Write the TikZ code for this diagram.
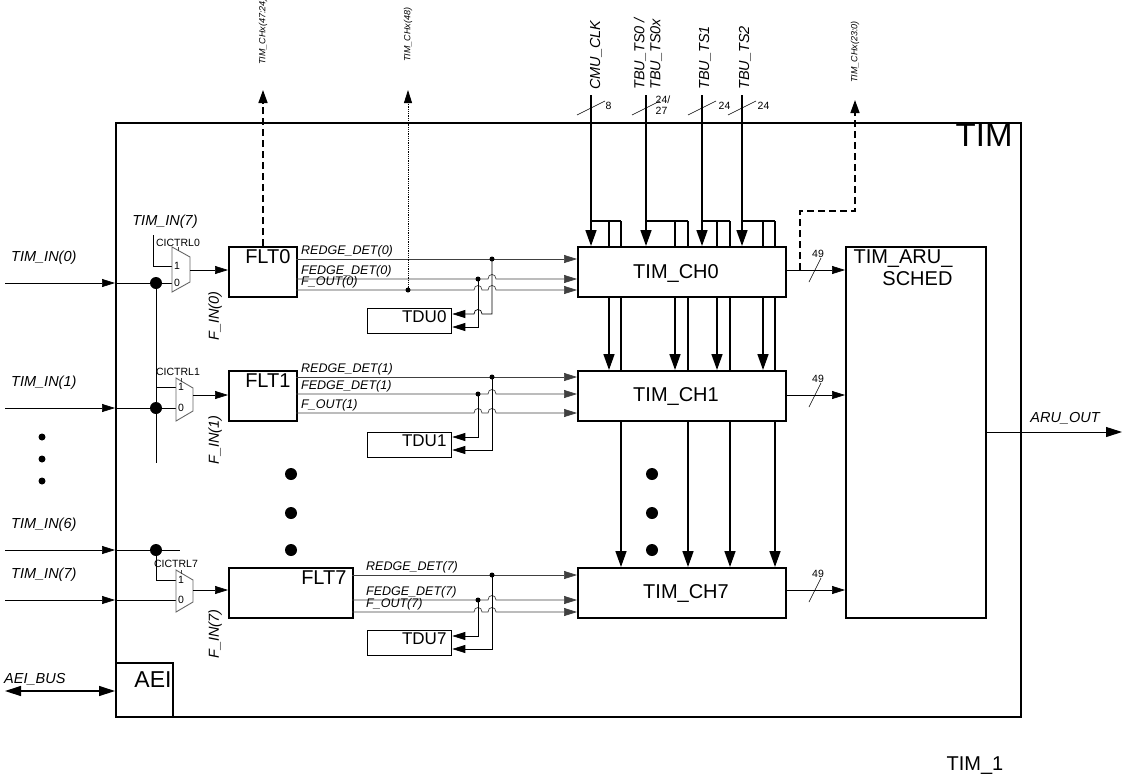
\documentclass[tikz,border=0pt]{standalone}
\usepackage{fontspec}
\setmainfont{Liberation Sans}
\usetikzlibrary{arrows.meta}
\begin{document}
\begin{tikzpicture}[x=1pt,y=-1pt,
  box/.style={draw,line width=1.6pt,fill=white},
  sig/.style={line width=0.7pt,draw=black!75},
  bus/.style={line width=1.6pt},
  tip/.style={-{Triangle[length=13pt,width=8pt]}},
  btip/.style={-{Triangle[length=16pt,width=11pt]}},
  lab/.style={font=\fontsize{12.5}{14}\selectfont\itshape,inner sep=1pt},
  big/.style={font=\fontsize{14.5}{16}\selectfont\itshape,inner sep=1pt},
  tiny/.style={font=\fontsize{10.5}{11}\selectfont,inner sep=0.5pt},
  vcap/.style={font=\fontsize{9}{10}\selectfont\itshape,rotate=90,anchor=west,inner sep=1pt},
  bl/.style={font=\fontsize{20}{22}\selectfont},
  mux/.style={draw=black!60,line width=0.9pt,fill=white},
  dot/.style={circle,fill,inner sep=0pt,minimum size=5pt},
  bdot/.style={circle,fill,inner sep=0pt,minimum size=12pt}]
\useasboundingbox (0,0) rectangle (1127,780);
% outer box
\node[draw,line width=1.6pt,minimum width=905pt,minimum height=594pt,anchor=north west,inner sep=0pt] (tim) at (115,122) {};
\node[font=\fontsize{33}{35}\selectfont,anchor=north east] (timl) at (1016,120) {TIM};
\node[box,minimum width=57pt,minimum height=54pt,anchor=north west,inner sep=0pt] (aei) at (115,662) {};
\node[font=\fontsize{23}{25}\selectfont] (aeil) at (153,680) {AEI};
\coordinate (aeiw) at (5,691);
\draw[line width=1.3pt,{Triangle[length=16pt,width=10pt]}-{Triangle[length=16pt,width=10pt]}] (aeiw) -- (aei.west|-aeiw);
\node[big,anchor=south west] (aeibus) at (3,686) {AEI\_BUS};

% inputs
\foreach \y/\n in {283/0,408/1,550/6,600/7}{
  \draw[sig,draw=black,tip] (5,\y) -- (115,\y);
  \node[big,anchor=south west] at (10,\y-17) {TIM\_IN(\n)};
}
\draw[sig,draw=black] (115,283) -- (172,283);
\draw[sig,draw=black] (115,408) -- (176,408);
\draw[sig,draw=black] (115,550) -- (180,550);
\draw[sig,draw=black] (115,600) -- (176,600);
\draw[sig,draw=black] (156,283) -- (156,463);
\draw[sig,draw=black] (156,387) -- (176,387);
\draw[sig,draw=black] (156,550) -- (156,580) -- (176,580);
\node[big,anchor=south] (t7) at (165,230) {TIM\_IN(7)};
\draw[sig,draw=black] (153,235) -- (153,266) -- (172,266);
\foreach \y in {283,408,550} \node[bdot] at (156,\y) {};
\foreach \y in {437,459,481} \node[circle,fill,inner sep=0pt,minimum size=7pt] at (42,\y) {};

% muxes
\draw[mux] (172,247) -- (190,257) -- (190,282) -- (172,292) -- cycle;
\draw[mux] (176,378) -- (193,388) -- (193,411) -- (176,421) -- cycle;
\draw[mux] (176,570) -- (193,580) -- (193,602) -- (176,612) -- cycle;
\node[tiny] at (177,266) {1};\node[tiny] at (177,283) {0};
\node[tiny] at (181,387) {1};\node[tiny] at (181,408) {0};
\node[tiny] at (181,580) {1};\node[tiny] at (181,600) {0};
\draw[sig] (178,247) -- (178,251);\draw[sig] (181,378) -- (181,382);\draw[sig] (181,570) -- (181,574);
\node[tiny,anchor=south] at (178,247) {CICTRL0};
\node[tiny,anchor=south] at (178,376) {CICTRL1};
\node[tiny,anchor=south] at (176,568) {CICTRL7};

% filters
\node[box,minimum width=68pt,minimum height=50pt,anchor=north west,inner sep=0pt] (flt0) at (228,246) {};
\node[box,minimum width=68pt,minimum height=50pt,anchor=north west,inner sep=0pt] (flt1) at (228,370) {};
\node[box,minimum width=124pt,minimum height=50pt,anchor=north west,inner sep=0pt] (flt7) at (228,567) {};
\node[bl,anchor=north east] at (294,246) {FLT0};
\node[bl,anchor=north east] at (294,370) {FLT1};
\node[bl,anchor=north east] at (350,567) {FLT7};
\draw[sig,draw=black,tip] (190,270) -- (flt0.west|-0,270);
\draw[sig,draw=black,tip] (193,395) -- (flt1.west|-0,395);
\draw[sig,draw=black,tip] (193,590) -- (flt7.west|-0,590);
\node[big,rotate=90] at (215,316) {F\_IN(0)};
\node[big,rotate=90] at (215,440) {F\_IN(1)};
\node[big,rotate=90] at (215,634) {F\_IN(7)};
\foreach \y in {474,513,550} \node[bdot] at (291,\y) {};

% TDUs
\node[box,line width=1.3pt,minimum width=84pt,minimum height=25pt,anchor=north west,inner sep=0pt] (tdu0) at (367,308) {};
\node[box,line width=1.3pt,minimum width=84pt,minimum height=25pt,anchor=north west,inner sep=0pt] (tdu1) at (367,432) {};
\node[box,line width=1.3pt,minimum width=84pt,minimum height=25pt,anchor=north west,inner sep=0pt] (tdu7) at (367,630) {};
\node[font=\fontsize{17}{19}\selectfont,anchor=north east] at (450,307) {TDU0};
\node[font=\fontsize{17}{19}\selectfont,anchor=north east] at (450,431) {TDU1};
\node[font=\fontsize{17}{19}\selectfont,anchor=north east] at (450,629) {TDU7};

% channels
\node[box,minimum width=208pt,minimum height=50pt,anchor=north west,inner sep=0pt] (ch0) at (577,246) {};
\node[box,minimum width=208pt,minimum height=50pt,anchor=north west,inner sep=0pt] (ch1) at (577,370) {};
\node[box,minimum width=208pt,minimum height=50pt,anchor=north west,inner sep=0pt] (ch7) at (577,567) {};
\node[bl] at (676,273) {TIM\_CH0};
\node[bl] at (676,396) {TIM\_CH1};
\node[bl] at (686,593) {TIM\_CH7};

% signal macros
\newcommand\hop[2]{-- (#1-4,#2) .. controls (#1-4,#2-6) and (#1+4,#2-6) .. (#1+4,#2)}
\newcommand\lhop[2]{-- (#1+4,#2) .. controls (#1+4,#2-6) and (#1-4,#2-6) .. (#1-4,#2)}
\newcommand\chsig[6]{%
  \draw[sig,tip] (#6,#1) -- (577,#1);
  \draw[sig,tip] (#6,#2) \hop{492}{#2} -- (577,#2);
  \draw[sig,tip] (#6,#3) \hop{478}{#3} \hop{492}{#3} -- (577,#3);
  \node[dot] at (492,#1) {};\node[dot] at (478,#2) {};
  \node[lab,anchor=south west] at (#4,#1-1) {REDGE\_DET(#5)};
  \node[lab,anchor=south west] at (#4,#2-1) {FEDGE\_DET(#5)};
  \node[lab,anchor=south west] at (#4,#3-0.5) {F\_OUT(#5)};}
\chsig{259}{279}{290}{300}{0}{296}
\chsig{377}{394}{413}{300}{1}{296}
\chsig{575}{600}{612}{365}{7}{352}
\draw[sig,tip,draw=black] (492,259) -- (492,314) \lhop{478}{314} -- (tdu0.east|-0,314);
\draw[sig,tip,draw=black] (478,279) -- (478,327) -- (tdu0.east|-0,327);
\draw[sig,tip,draw=black] (478,394) -- (478,437) -- (tdu1.east|-0,437);
\draw[sig,tip,draw=black] (492,377) -- (492,450) -- (tdu1.east|-0,450);
\draw[sig,tip,draw=black] (478,600) -- (478,636) -- (tdu7.east|-0,636);
\draw[sig,tip,draw=black] (492,575) -- (492,649) -- (tdu7.east|-0,649);
\node[dot] at (408,290) {};

% outputs up
\draw[line width=1.5pt,dash pattern=on 7pt off 4pt,-{Triangle[length=13pt,width=9pt]}] (flt0.north-|263,0) -- (263,90);
\draw[line width=0.8pt,densely dotted,-{Triangle[length=13pt,width=8pt]}] (408,290) -- (408,90);
\node[vcap] at (263,66) {TIM\_CHx(47:24)};
\node[vcap] at (408,63) {TIM\_CHx(48)};
\node[vcap] at (855,84) {TIM\_CHx(23:0)};
\draw[line width=1.5pt,dash pattern=on 7pt off 4pt,-{Triangle[length=13pt,width=9pt]}] (800,270) -- (800,211) -- (855,211) -- (855,100);

% bus inputs
\foreach \x/\a/\b in {591/609/621,646/675/688,702/717/730,742/763/775}{
  \draw[bus] (\x,221) -- (\b,221);
  \draw[bus,btip] (\x,95) -- (\x,246);
  \draw[bus] (\a,221) -- (\a,246);
  \draw[bus] (\b,221) -- (\b,246);
  \draw[bus,btip] (\a,296) -- (\a,370);
  \draw[bus] (\b,296) -- (\b,370);
  \draw[bus,btip] (\b,420) -- (\b,567);
  \draw[line width=0.6pt] (\x-14,115) -- (\x+14,101);
}
\node[tiny,anchor=west] at (605,106) {8};
\node[tiny,anchor=west,align=left] at (655,105) {24/\\ 27};
\node[tiny,anchor=west] at (718,106) {24};
\node[tiny,anchor=west] at (757,106) {24};
\node[big,rotate=90,anchor=west] at (596,91) {CMU\_CLK};
\node[big,rotate=90,anchor=west,align=left] at (648,91) {TBU\_TS0 /\\TBU\_TS0x};
\node[big,rotate=90,anchor=west] at (705,91) {TBU\_TS1};
\node[big,rotate=90,anchor=west] at (745,91) {TBU\_TS2};
\foreach \y in {474,513,550} \node[bdot] at (652,\y) {};

% ARU sched
\node[box,minimum width=140pt,minimum height=371pt,anchor=north west,inner sep=0pt] (aru) at (845,246) {};
\node[bl,anchor=north west,align=right] at (850,246) {TIM\_ARU\_\\SCHED};
\foreach \y in {270,395,590}{
  \draw[sig,draw=black,tip] (785,\y) -- (845,\y);
  \draw[line width=0.6pt] (809,\y+12) -- (821,\y-12);
  \node[tiny,anchor=south] at (818,\y-12) {49};
}
\draw[sig,draw=black,line width=1pt,-{Triangle[length=16pt,width=10pt]}] (aru.east|-0,432) -- (1122,432);
\node[big,anchor=south] at (1065,425) {ARU\_OUT};
\node[font=\fontsize{20}{22}\selectfont] at (975,766) {TIM\_1};
\end{tikzpicture}
\end{document}
